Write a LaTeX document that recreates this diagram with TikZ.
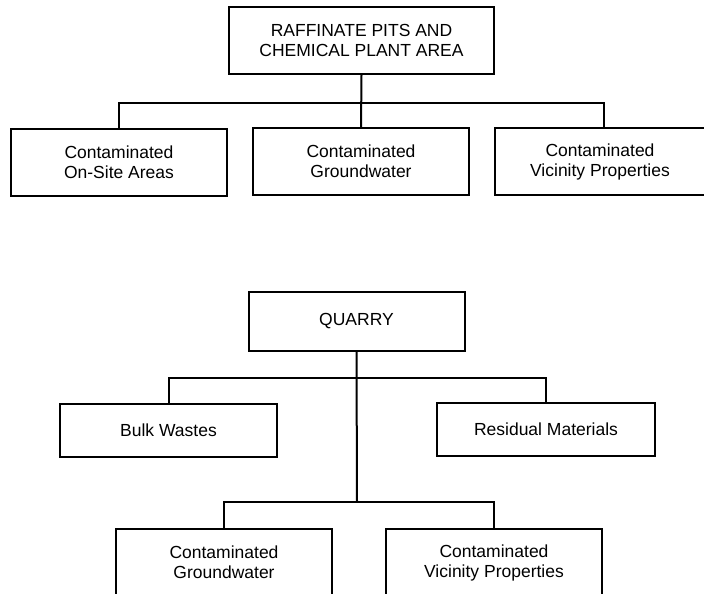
\documentclass[tikz,border=0pt]{standalone}
\usepackage{fontspec}
\setmainfont{Liberation Sans}
\tikzset{
    box/.style={draw, line width=2pt, inner sep=0pt, align=center,
        font=\fontsize{17.5}{20}\selectfont},
    link/.style={line width=2pt}
}
\begin{document}
\begin{tikzpicture}[x=1pt, y=-1pt]
    \useasboundingbox (0,0) rectangle (704,594);
    % upper tree
    \node[box, minimum width=265pt, minimum height=67pt] (raff) at (361.5,40.5)
        {RAFFINATE PITS AND\\CHEMICAL PLANT AREA};
    \node[box, minimum width=216pt, minimum height=67pt] (onsite) at (119,162.5)
        {Contaminated\\On-Site Areas};
    \node[box, minimum width=216pt, minimum height=67pt] (gwa) at (361,161.5)
        {Contaminated\\Groundwater};
    \node[box, minimum width=218pt, minimum height=67pt] (vica) at (604,161.5)
        {\hspace*{-8pt}Contaminated\\\hspace*{-8pt}Vicinity Properties};
    \coordinate (bara) at (361,103);
    \draw[link] (raff.south) -- (gwa.north);
    \draw[link] (onsite.north) |- (bara) -| (vica.north);
    % lower tree
    \node[box, minimum width=216pt, minimum height=59pt] (quarry) at (356.5,321.5) {QUARRY};
    \node[box, minimum width=217pt, minimum height=53pt] (bulk) at (168.5,430.5) {Bulk Wastes};
    \node[box, minimum width=218pt, minimum height=53pt] (resid) at (546,429.5) {Residual Materials};
    \node[box, minimum width=216pt, minimum height=67pt] (gwb) at (224,562.5)
        {Contaminated\\Groundwater};
    \node[box, minimum width=216pt, minimum height=67pt] (vicb) at (494,562.5)
        {Contaminated\\Vicinity Properties};
    \coordinate (barb) at (357,378);
    \coordinate (barc) at (357,502);
    \draw[link] (quarry.south) -- (barc);
    \draw[link] (bulk.north) |- (barb) -| (resid.north);
    \draw[link] (gwb.north) |- (barc) -| (vicb.north);
\end{tikzpicture}
\end{document}
